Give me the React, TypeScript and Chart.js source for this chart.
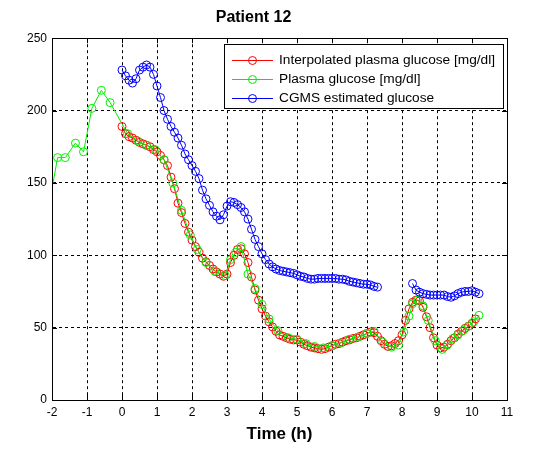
import React, { useEffect, useRef } from "react";
import { Chart, registerables } from "chart.js";

Chart.register(...registerables);

// ---- data ----
const chartTitle = "Patient 12";
const xAxisTitle = "Time (h)";
const xTicksMin = -2;
const xTicksMax = 11;
const yTicksMin = 0;
const yTicksMax = 250;

const seriesLabels = [
  "Interpolated plasma glucose [mg/dl]",
  "Plasma glucose [mg/dl]",
  "CGMS estimated glucose",
];

// interpolated plasma glucose, sampled every 0.1 h starting at 0 h
const interpStartH = 0;
const interpStepH = 0.1;
const interpolatedGlucose = [
  189, 184, 182, 181, 179.5, 178, 177, 176, 175, 173,
  171.5, 169, 166, 162, 154, 146, 136, 129.5, 122, 116,
  110.5, 106, 102, 98, 95.5, 93, 90.5, 88.5, 87, 85.5,
  87, 95, 100, 104, 104.5, 101, 95, 85, 76, 69,
  63, 58, 54, 50.5, 47.5, 45, 44, 43, 42, 41.5,
  41.5, 40, 38.5, 37.5, 36.5, 36, 35.5, 35, 35.5, 36.5,
  37.5, 38.5, 39, 40, 41, 41.5, 42.5, 43, 44, 45,
  46, 47, 46.5, 44, 41, 38.5, 37, 37.5, 39, 41,
  45, 55, 63, 67.5, 69, 68.5, 64, 57.5, 50, 43,
  38, 36, 36.5, 38.5, 41, 43, 45.5, 47.5, 49.5, 51,
  53, 56,
];

// plasma glucose samples
const plasmaTimes = [
  -2.15, -1.84, -1.62, -1.33, -1.1, -0.86, -0.59, -0.34, 0.16, 0.45,
  0.7, 0.95, 1.2, 1.45, 1.7, 1.95, 2.15, 2.4, 2.65, 2.95,
  3.1, 3.25, 3.4, 3.6, 3.8, 4.0, 4.2, 4.45, 4.75, 5.0,
  5.25, 5.5, 5.75, 6.0, 6.25, 6.5, 6.75, 7.0, 7.2, 7.45,
  7.7, 7.9, 8.05, 8.2, 8.3, 8.45, 8.6, 8.75, 8.95, 9.15,
  9.3, 9.45, 9.6, 9.75, 9.9, 10.05, 10.2,
];
const plasmaGlucose = [
  126, 167.5, 167.5, 177.5, 171.5, 201.5, 214, 205.5, 184, 179,
  176, 173, 166, 150, 131, 114, 104, 95, 89, 86,
  97, 102, 106, 87, 77, 66, 56, 48, 43, 42,
  39, 37, 36, 37.5, 39.5, 42, 43.5, 46, 47.5, 40,
  36.5, 38, 47, 58, 66.5, 69, 65, 55, 41, 35,
  38, 42.5, 45, 48, 51, 54, 58.5,
];

// CGMS estimated glucose, every 0.1 h, two segments with a gap
const cgmsStepH = 0.1;
const cgmsSeg1StartH = 0;
const cgmsSeg1 = [
  228, 224, 221, 219, 222, 228, 230, 231.5, 230, 225,
  217, 209, 200, 194, 189, 185, 181, 176, 170, 166,
  162, 158, 153, 145, 139, 134.5, 130, 127, 124.5, 128,
  134, 137, 136.5, 135, 133, 130, 125, 118, 111, 106,
  101, 97, 94, 92, 90.5, 89.5, 89, 88.5, 88, 87.5,
  86.5, 85.5, 85, 84, 83.5, 83.5, 84, 84, 84, 84,
  84, 84, 83.5, 83.5, 83, 82, 81.5, 81, 80.5, 80,
  80, 79.5, 78.5, 78,
];
const cgmsGapH = 7.8;
const cgmsSeg2StartH = 8.3;
const cgmsSeg2 = [
  80.5, 76, 74.5, 73.5, 73, 72.5, 72.5, 72.5, 72.5, 72.5,
  71.5, 71, 72, 73.5, 74.5, 75, 75, 75.5, 74.5, 73.5,
];

const seriesColors = ["#ff0000", "#00ee00", "#0000ff"];

const FONT = "'Liberation Sans', Arial, Helvetica, sans-serif";

const toPoints = (start: number, step: number, vals: number[]) =>
  vals.map((v, i) => ({ x: Math.round((start + i * step) * 1000) / 1000, y: v }));

const boxTicksPlugin = {
  id: "boxTicks",
  afterDatasetsDraw(chart: any) {
    const { ctx, chartArea, scales } = chart;
    const { left, right, top, bottom } = chartArea;
    ctx.save();
    ctx.strokeStyle = "#000";
    ctx.lineWidth = 1;
    ctx.setLineDash([]);
    const tl = 5;
    ctx.beginPath();
    scales.x.ticks.forEach((t: any) => {
      const px = Math.round(scales.x.getPixelForValue(t.value)) + 0.5;
      ctx.moveTo(px, bottom);
      ctx.lineTo(px, bottom - tl);
      ctx.moveTo(px, top);
      ctx.lineTo(px, top + tl);
    });
    scales.y.ticks.forEach((t: any) => {
      const py = Math.round(scales.y.getPixelForValue(t.value)) + 0.5;
      ctx.moveTo(left, py);
      ctx.lineTo(left + tl, py);
      ctx.moveTo(right, py);
      ctx.lineTo(right - tl, py);
    });
    ctx.stroke();
    ctx.strokeRect(Math.round(left) + 0.5, Math.round(top) + 0.5, Math.round(right - left), Math.round(bottom - top));
    ctx.restore();
  },
};

const legendPlugin = {
  id: "matlabLegend",
  afterDraw(chart: any) {
    const { ctx, chartArea } = chart;
    ctx.save();
    ctx.font = `13.7px ${FONT}`;
    const dsets = chart.data.datasets;
    const textW = Math.max(...dsets.map((d: any) => ctx.measureText(d.label).width));
    const right = Math.round(chartArea.right - 4);
    const width = Math.round(textW + 63);
    const left = right - width;
    const top = Math.round(chartArea.top + 6);
    const rowH = 19;
    const height = 64;
    ctx.fillStyle = "#fff";
    ctx.fillRect(left, top, width, height);
    ctx.strokeStyle = "#000";
    ctx.lineWidth = 1;
    ctx.strokeRect(left + 0.5, top + 0.5, width, height);
    dsets.forEach((d: any, i: number) => {
      const cy = Math.round(top + 16 + i * rowH) + 0.5;
      ctx.strokeStyle = d.borderColor;
      ctx.beginPath();
      ctx.moveTo(left + 8, cy);
      ctx.lineTo(left + 49, cy);
      ctx.stroke();
      ctx.beginPath();
      ctx.arc(left + 28.5, cy, 4, 0, Math.PI * 2);
      ctx.stroke();
      ctx.fillStyle = "#000";
      ctx.textBaseline = "middle";
      ctx.textAlign = "left";
      ctx.fillText(d.label, left + 55, cy);
    });
    ctx.restore();
  },
};

export default function App() {
  const canvasRef = useRef<HTMLCanvasElement | null>(null);

  useEffect(() => {
    if (!canvasRef.current) return;
    const cgmsData: any[] = [
      ...toPoints(cgmsSeg1StartH, cgmsStepH, cgmsSeg1),
      { x: cgmsGapH, y: null },
      ...toPoints(cgmsSeg2StartH, cgmsStepH, cgmsSeg2),
    ];
    const common = {
      borderWidth: 1,
      pointRadius: 4,
      pointBorderWidth: 1,
      pointBackgroundColor: "rgba(0,0,0,0)",
      pointStyle: "circle",
      tension: 0,
      fill: false,
      spanGaps: false,
    };
    const chart = new Chart(canvasRef.current, {
      type: "line",
      data: {
        datasets: [
          {
            ...common,
            label: seriesLabels[0],
            data: toPoints(interpStartH, interpStepH, interpolatedGlucose),
            borderColor: seriesColors[0],
            pointBorderColor: seriesColors[0],
            order: 3,
          },
          {
            ...common,
            label: seriesLabels[1],
            data: plasmaTimes.map((t, i) => ({ x: t, y: plasmaGlucose[i] })),
            borderColor: seriesColors[1],
            pointBorderColor: seriesColors[1],
            order: 2,
          },
          {
            ...common,
            label: seriesLabels[2],
            data: cgmsData,
            borderColor: seriesColors[2],
            pointBorderColor: seriesColors[2],
            order: 1,
          },
        ],
      } as any,
      options: {
        responsive: false,
        animation: false,
        events: [],
        layout: { padding: { left: 0, right: 36, top: 0, bottom: 0 } },
        plugins: {
          legend: { display: false },
          tooltip: { enabled: false },
          title: {
            display: true,
            text: chartTitle,
            color: "#000",
            font: { family: FONT, size: 16, weight: "bold" },
            padding: { top: 8, bottom: 11 },
          },
        },
        scales: {
          x: {
            type: "linear",
            min: xTicksMin,
            max: xTicksMax,
            ticks: { stepSize: 1, color: "#000", font: { family: FONT, size: 12 }, padding: 5, maxRotation: 0, autoSkip: false },
            grid: { color: "#000", lineWidth: 1, drawTicks: false, tickLength: 0 },
            border: { display: true, color: "#000", width: 1, dash: [3, 3] },
            title: {
              display: true,
              text: xAxisTitle,
              color: "#000",
              font: { family: FONT, size: 17, weight: "bold" },
              padding: { top: 4, bottom: 12 },
            },
            afterFit: (scale: any) => {
              scale.height = 57;
            },
          },
          y: {
            type: "linear",
            min: yTicksMin,
            max: yTicksMax,
            ticks: { stepSize: 50, color: "#000", font: { family: FONT, size: 12 }, padding: 5 },
            grid: { color: "#000", lineWidth: 1, drawTicks: false, tickLength: 0 },
            border: { display: true, color: "#000", width: 1, dash: [3, 3] },
            afterFit: (scale: any) => {
              scale.width = 52;
            },
          },
        },
      } as any,
      plugins: [boxTicksPlugin, legendPlugin],
    });
    return () => chart.destroy();
  }, []);

  return (
    <div style={{ position: "fixed", left: 0, top: 0, width: 543, height: 457, background: "#fff" }}>
      <canvas ref={canvasRef} width={543} height={457} style={{ display: "block" }} />
    </div>
  );
}
